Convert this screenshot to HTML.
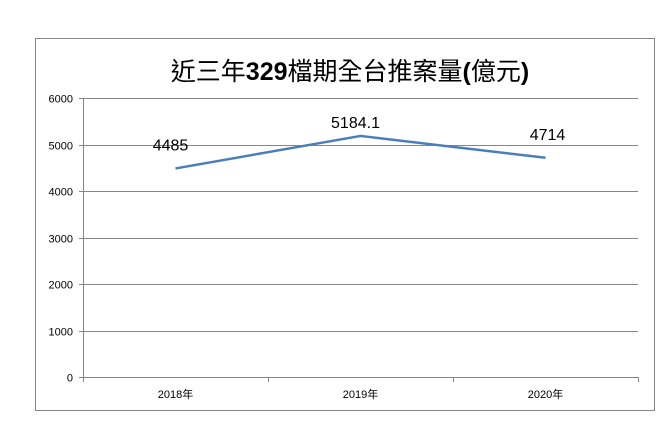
<!DOCTYPE html>
<html><head><meta charset="utf-8"><style>
body{margin:0;background:#fff;width:670px;height:445px;overflow:hidden}
svg{display:block;font-family:"Liberation Sans","Noto Sans CJK TC",sans-serif}
</style></head><body>
<svg width="670" height="445">
<rect x="35.5" y="38.5" width="619" height="372" fill="#fff" stroke="#878787"/>
<text x="350" y="80" text-anchor="middle" font-size="25" fill="#000">近三年<tspan font-weight="bold">329</tspan>檔期全台推案量<tspan font-weight="bold">(</tspan>億元<tspan font-weight="bold">)</tspan></text>
<g id="grid"></g><g id="axes"></g><g id="series"></g>
</svg>
<script>
const categories=["2018年","2019年","2020年"];
const values=[4485,5184.1,4714];
const valueLabels=["4485","5184.1","4714"];
const yTicks=[0,1000,2000,3000,4000,5000,6000];
const NS="http://www.w3.org/2000/svg";
const X0=83,X1=638,Y0=377,Y1=98,YMAX=6000;
const bw=(X1-X0)/categories.length;
const xs=i=>X0+bw*(i+0.5);
const ys=v=>Y0-(v/YMAX)*(Y0-Y1);
function mk(t,a,p){const e=document.createElementNS(NS,t);for(const k in a)e.setAttribute(k,a[k]);p.appendChild(e);return e;}
const grid=document.getElementById('grid'),axes=document.getElementById('axes'),ser=document.getElementById('series');
yTicks.forEach(v=>{
  const y=Math.round(ys(v))+0.5;
  if(v>0){const l=mk('line',{x1:X0,x2:X1,y1:y,y2:y,stroke:'#868686'},grid);
  
  }
  const tk=mk('line',{x1:X0-4,x2:X0,y1:y,y2:y,stroke:'#868686'},axes);
  
  
  const t=mk('text',{x:X0-10,y:y+4,'text-anchor':'end','font-size':11,fill:'#000'},axes);
  t.textContent=v;
  
  
});
const ya=mk('line',{x1:X0+0.5,x2:X0+0.5,y1:Y1,y2:Y0,stroke:'#868686'},axes);


const xa=mk('line',{x1:X0,x2:X1,y1:Y0+0.5,y2:Y0+0.5,stroke:'#868686'},axes);


for(let i=0;i<=categories.length;i++){
  const x=Math.round(X0+bw*i)+0.5;
  const tk=mk('line',{x1:x,x2:x,y1:Y0,y2:Y0+5,stroke:'#868686'},axes);
  
  
}
categories.forEach((c,i)=>{
  const t=mk('text',{x:xs(i),y:398,'text-anchor':'middle','font-size':11,fill:'#000'},axes);
  t.textContent=c;
  
  
});
const pl=mk('polyline',{points:values.map((v,i)=>xs(i)+','+ys(v)).join(' '),fill:'none',stroke:'#4a7ebb','stroke-width':2.5,'stroke-linejoin':'round'},ser);


values.forEach((v,i)=>{
  const t=mk('text',{x:xs(i)-5+(i==2?7:0),y:ys(v)-(i==1?8:18),'text-anchor':'middle','font-size':16,fill:'#000'},ser);
  t.textContent=valueLabels[i];
  
  
});
</script>
</body></html>
